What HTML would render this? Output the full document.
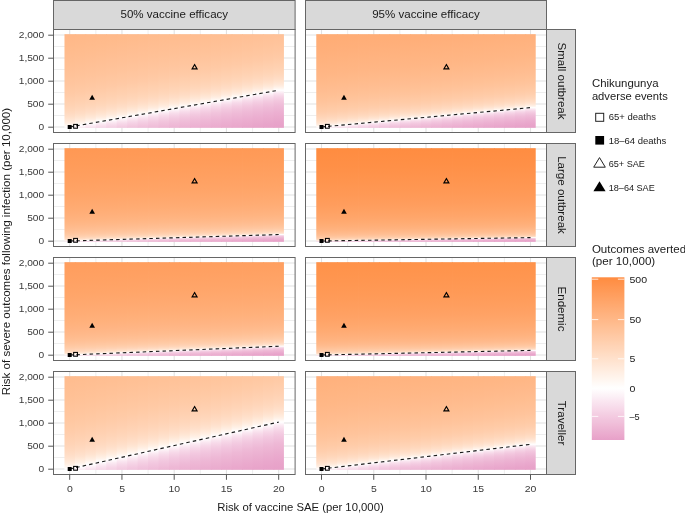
<!DOCTYPE html><html><head><meta charset="utf-8"><title>Chikungunya vaccine outcomes</title><style>html,body{margin:0;padding:0;background:#fff}body{width:685px;height:513px;position:relative;overflow:hidden;font-family:"Liberation Sans",sans-serif}svg{position:absolute;left:0;top:0;display:block}</style></head><body><svg width="685" height="513" viewBox="0 0 685 513"><defs><linearGradient id="g00"><stop offset="-0.0000" stop-color="#ffb787"/><stop offset="0.0000" stop-color="#ffb787"/><stop offset="0.1135" stop-color="#ffbb8c"/><stop offset="0.2089" stop-color="#ffbe92"/><stop offset="0.2890" stop-color="#ffc197"/><stop offset="0.3563" stop-color="#ffc49c"/><stop offset="0.4129" stop-color="#ffc7a1"/><stop offset="0.4604" stop-color="#ffcaa6"/><stop offset="0.5004" stop-color="#ffceac"/><stop offset="0.5341" stop-color="#ffd1b1"/><stop offset="0.5624" stop-color="#ffd4b6"/><stop offset="0.5863" stop-color="#ffd7bb"/><stop offset="0.6064" stop-color="#ffdac1"/><stop offset="0.6234" stop-color="#ffddc6"/><stop offset="0.6378" stop-color="#ffe1cb"/><stop offset="0.6501" stop-color="#ffe4d1"/><stop offset="0.6606" stop-color="#ffe7d6"/><stop offset="0.6696" stop-color="#ffeadb"/><stop offset="0.6774" stop-color="#ffede1"/><stop offset="0.6842" stop-color="#fff0e6"/><stop offset="0.6903" stop-color="#fff4ec"/><stop offset="0.6959" stop-color="#fff7f1"/><stop offset="0.7011" stop-color="#fffaf7"/><stop offset="0.7060" stop-color="#fffdfc"/><stop offset="0.7087" stop-color="#ffffff"/><stop offset="0.7109" stop-color="#fffcfe"/><stop offset="0.7158" stop-color="#fdf7fa"/><stop offset="0.7209" stop-color="#fcf1f7"/><stop offset="0.7265" stop-color="#fbecf4"/><stop offset="0.7325" stop-color="#fae6f1"/><stop offset="0.7393" stop-color="#f9e1ed"/><stop offset="0.7470" stop-color="#f7dbea"/><stop offset="0.7559" stop-color="#f6d6e7"/><stop offset="0.7663" stop-color="#f5d0e4"/><stop offset="0.7783" stop-color="#f3cbe0"/><stop offset="0.7926" stop-color="#f2c5dd"/><stop offset="0.8093" stop-color="#f0c0da"/><stop offset="0.8292" stop-color="#efbad7"/><stop offset="0.8527" stop-color="#edb5d4"/><stop offset="0.8806" stop-color="#ecafd1"/><stop offset="0.9137" stop-color="#eaaacd"/><stop offset="0.9531" stop-color="#e8a4ca"/><stop offset="1.0000" stop-color="#e7a0c8"/></linearGradient><linearGradient id="t000" href="#g00" gradientUnits="userSpaceOnUse" x1="0" x2="0" y1="33.26" y2="165.54"/><linearGradient id="t001" href="#g00" gradientUnits="userSpaceOnUse" x1="0" x2="0" y1="31.42" y2="163.7"/><linearGradient id="t002" href="#g00" gradientUnits="userSpaceOnUse" x1="0" x2="0" y1="29.58" y2="161.86"/><linearGradient id="t003" href="#g00" gradientUnits="userSpaceOnUse" x1="0" x2="0" y1="27.74" y2="160.02"/><linearGradient id="t004" href="#g00" gradientUnits="userSpaceOnUse" x1="0" x2="0" y1="25.9" y2="158.18"/><linearGradient id="t005" href="#g00" gradientUnits="userSpaceOnUse" x1="0" x2="0" y1="24.06" y2="156.34"/><linearGradient id="t006" href="#g00" gradientUnits="userSpaceOnUse" x1="0" x2="0" y1="22.22" y2="154.5"/><linearGradient id="t007" href="#g00" gradientUnits="userSpaceOnUse" x1="0" x2="0" y1="20.38" y2="152.66"/><linearGradient id="t008" href="#g00" gradientUnits="userSpaceOnUse" x1="0" x2="0" y1="18.54" y2="150.82"/><linearGradient id="t009" href="#g00" gradientUnits="userSpaceOnUse" x1="0" x2="0" y1="16.7" y2="148.98"/><linearGradient id="t0010" href="#g00" gradientUnits="userSpaceOnUse" x1="0" x2="0" y1="14.86" y2="147.14"/><linearGradient id="t0011" href="#g00" gradientUnits="userSpaceOnUse" x1="0" x2="0" y1="13.02" y2="145.3"/><linearGradient id="t0012" href="#g00" gradientUnits="userSpaceOnUse" x1="0" x2="0" y1="11.18" y2="143.46"/><linearGradient id="t0013" href="#g00" gradientUnits="userSpaceOnUse" x1="0" x2="0" y1="9.34" y2="141.62"/><linearGradient id="t0014" href="#g00" gradientUnits="userSpaceOnUse" x1="0" x2="0" y1="7.5" y2="139.78"/><linearGradient id="t0015" href="#g00" gradientUnits="userSpaceOnUse" x1="0" x2="0" y1="5.66" y2="137.94"/><linearGradient id="t0016" href="#g00" gradientUnits="userSpaceOnUse" x1="0" x2="0" y1="3.82" y2="136.1"/><linearGradient id="t0017" href="#g00" gradientUnits="userSpaceOnUse" x1="0" x2="0" y1="1.98" y2="134.26"/><linearGradient id="t0018" href="#g00" gradientUnits="userSpaceOnUse" x1="0" x2="0" y1="0.14" y2="132.42"/><linearGradient id="t0019" href="#g00" gradientUnits="userSpaceOnUse" x1="0" x2="0" y1="-1.7" y2="130.58"/><linearGradient id="t0020" href="#g00" gradientUnits="userSpaceOnUse" x1="0" x2="0" y1="-3.54" y2="128.74"/><linearGradient id="g01"><stop offset="0.0000" stop-color="#ffac74"/><stop offset="0.0000" stop-color="#ffac74"/><stop offset="0.1422" stop-color="#ffaf7a"/><stop offset="0.2597" stop-color="#ffb380"/><stop offset="0.3569" stop-color="#ffb685"/><stop offset="0.4371" stop-color="#ffba8b"/><stop offset="0.5035" stop-color="#ffbd91"/><stop offset="0.5583" stop-color="#ffc196"/><stop offset="0.6036" stop-color="#ffc49c"/><stop offset="0.6411" stop-color="#ffc8a2"/><stop offset="0.6721" stop-color="#ffcba7"/><stop offset="0.6977" stop-color="#ffcead"/><stop offset="0.7189" stop-color="#ffd2b3"/><stop offset="0.7365" stop-color="#ffd5b9"/><stop offset="0.7511" stop-color="#ffd9be"/><stop offset="0.7633" stop-color="#ffdcc4"/><stop offset="0.7734" stop-color="#ffe0ca"/><stop offset="0.7818" stop-color="#ffe3d0"/><stop offset="0.7889" stop-color="#ffe7d6"/><stop offset="0.7950" stop-color="#ffeadc"/><stop offset="0.8001" stop-color="#ffeee2"/><stop offset="0.8046" stop-color="#fff1e7"/><stop offset="0.8086" stop-color="#fff5ed"/><stop offset="0.8122" stop-color="#fff8f3"/><stop offset="0.8156" stop-color="#fffcf9"/><stop offset="0.8186" stop-color="#ffffff"/><stop offset="0.8188" stop-color="#ffffff"/><stop offset="0.8221" stop-color="#fef9fb"/><stop offset="0.8255" stop-color="#fdf3f8"/><stop offset="0.8291" stop-color="#fbedf4"/><stop offset="0.8331" stop-color="#fae6f1"/><stop offset="0.8377" stop-color="#f9e0ed"/><stop offset="0.8429" stop-color="#f7daea"/><stop offset="0.8491" stop-color="#f6d4e6"/><stop offset="0.8563" stop-color="#f4cee3"/><stop offset="0.8649" stop-color="#f3c8df"/><stop offset="0.8752" stop-color="#f1c2dc"/><stop offset="0.8876" stop-color="#efbcd8"/><stop offset="0.9025" stop-color="#eeb6d5"/><stop offset="0.9205" stop-color="#ecb0d1"/><stop offset="0.9422" stop-color="#eaaace"/><stop offset="0.9683" stop-color="#e8a4ca"/><stop offset="1.0000" stop-color="#e7a0c8"/></linearGradient><linearGradient id="t010" href="#g01" gradientUnits="userSpaceOnUse" x1="0" x2="0" y1="33.7" y2="147.67"/><linearGradient id="t011" href="#g01" gradientUnits="userSpaceOnUse" x1="0" x2="0" y1="32.73" y2="146.7"/><linearGradient id="t012" href="#g01" gradientUnits="userSpaceOnUse" x1="0" x2="0" y1="31.76" y2="145.73"/><linearGradient id="t013" href="#g01" gradientUnits="userSpaceOnUse" x1="0" x2="0" y1="30.79" y2="144.77"/><linearGradient id="t014" href="#g01" gradientUnits="userSpaceOnUse" x1="0" x2="0" y1="29.82" y2="143.8"/><linearGradient id="t015" href="#g01" gradientUnits="userSpaceOnUse" x1="0" x2="0" y1="28.85" y2="142.83"/><linearGradient id="t016" href="#g01" gradientUnits="userSpaceOnUse" x1="0" x2="0" y1="27.89" y2="141.86"/><linearGradient id="t017" href="#g01" gradientUnits="userSpaceOnUse" x1="0" x2="0" y1="26.92" y2="140.89"/><linearGradient id="t018" href="#g01" gradientUnits="userSpaceOnUse" x1="0" x2="0" y1="25.95" y2="139.92"/><linearGradient id="t019" href="#g01" gradientUnits="userSpaceOnUse" x1="0" x2="0" y1="24.98" y2="138.96"/><linearGradient id="t0110" href="#g01" gradientUnits="userSpaceOnUse" x1="0" x2="0" y1="24.01" y2="137.99"/><linearGradient id="t0111" href="#g01" gradientUnits="userSpaceOnUse" x1="0" x2="0" y1="23.04" y2="137.02"/><linearGradient id="t0112" href="#g01" gradientUnits="userSpaceOnUse" x1="0" x2="0" y1="22.08" y2="136.05"/><linearGradient id="t0113" href="#g01" gradientUnits="userSpaceOnUse" x1="0" x2="0" y1="21.11" y2="135.08"/><linearGradient id="t0114" href="#g01" gradientUnits="userSpaceOnUse" x1="0" x2="0" y1="20.14" y2="134.11"/><linearGradient id="t0115" href="#g01" gradientUnits="userSpaceOnUse" x1="0" x2="0" y1="19.17" y2="133.15"/><linearGradient id="t0116" href="#g01" gradientUnits="userSpaceOnUse" x1="0" x2="0" y1="18.2" y2="132.18"/><linearGradient id="t0117" href="#g01" gradientUnits="userSpaceOnUse" x1="0" x2="0" y1="17.23" y2="131.21"/><linearGradient id="t0118" href="#g01" gradientUnits="userSpaceOnUse" x1="0" x2="0" y1="16.27" y2="130.24"/><linearGradient id="t0119" href="#g01" gradientUnits="userSpaceOnUse" x1="0" x2="0" y1="15.3" y2="129.27"/><linearGradient id="t0120" href="#g01" gradientUnits="userSpaceOnUse" x1="0" x2="0" y1="14.33" y2="128.3"/><linearGradient id="g10"><stop offset="0.0000" stop-color="#ff9854"/><stop offset="0.0000" stop-color="#ff9854"/><stop offset="0.1830" stop-color="#ff9c5a"/><stop offset="0.3298" stop-color="#ffa061"/><stop offset="0.4476" stop-color="#ffa467"/><stop offset="0.5422" stop-color="#ffa86e"/><stop offset="0.6180" stop-color="#ffac74"/><stop offset="0.6789" stop-color="#ffb07b"/><stop offset="0.7278" stop-color="#ffb481"/><stop offset="0.7670" stop-color="#ffb888"/><stop offset="0.7984" stop-color="#ffbc8f"/><stop offset="0.8237" stop-color="#ffc095"/><stop offset="0.8440" stop-color="#ffc49c"/><stop offset="0.8603" stop-color="#ffc8a2"/><stop offset="0.8733" stop-color="#ffcca9"/><stop offset="0.8838" stop-color="#ffd0af"/><stop offset="0.8923" stop-color="#ffd4b6"/><stop offset="0.8991" stop-color="#ffd8bd"/><stop offset="0.9046" stop-color="#ffdcc3"/><stop offset="0.9091" stop-color="#ffe0ca"/><stop offset="0.9127" stop-color="#ffe4d1"/><stop offset="0.9157" stop-color="#ffe8d8"/><stop offset="0.9181" stop-color="#ffecde"/><stop offset="0.9202" stop-color="#fff0e5"/><stop offset="0.9220" stop-color="#fff4ec"/><stop offset="0.9236" stop-color="#fff8f3"/><stop offset="0.9250" stop-color="#fffcfa"/><stop offset="0.9261" stop-color="#ffffff"/><stop offset="0.9265" stop-color="#fffdfe"/><stop offset="0.9279" stop-color="#fdf6fa"/><stop offset="0.9294" stop-color="#fceff6"/><stop offset="0.9311" stop-color="#fae8f2"/><stop offset="0.9330" stop-color="#f9e1ee"/><stop offset="0.9353" stop-color="#f7daea"/><stop offset="0.9380" stop-color="#f5d3e5"/><stop offset="0.9413" stop-color="#f4cce1"/><stop offset="0.9453" stop-color="#f2c5dd"/><stop offset="0.9503" stop-color="#f0bed9"/><stop offset="0.9565" stop-color="#eeb8d5"/><stop offset="0.9641" stop-color="#ecb1d1"/><stop offset="0.9736" stop-color="#eaaacd"/><stop offset="0.9853" stop-color="#e8a3c9"/><stop offset="1.0000" stop-color="#e7a0c8"/><stop offset="1.0000" stop-color="#e7a0c8"/></linearGradient><linearGradient id="t100" href="#g10" gradientUnits="userSpaceOnUse" x1="0" x2="0" y1="148.02" y2="248.42"/><linearGradient id="t101" href="#g10" gradientUnits="userSpaceOnUse" x1="0" x2="0" y1="147.7" y2="248.1"/><linearGradient id="t102" href="#g10" gradientUnits="userSpaceOnUse" x1="0" x2="0" y1="147.38" y2="247.78"/><linearGradient id="t103" href="#g10" gradientUnits="userSpaceOnUse" x1="0" x2="0" y1="147.05" y2="247.45"/><linearGradient id="t104" href="#g10" gradientUnits="userSpaceOnUse" x1="0" x2="0" y1="146.73" y2="247.13"/><linearGradient id="t105" href="#g10" gradientUnits="userSpaceOnUse" x1="0" x2="0" y1="146.41" y2="246.81"/><linearGradient id="t106" href="#g10" gradientUnits="userSpaceOnUse" x1="0" x2="0" y1="146.09" y2="246.49"/><linearGradient id="t107" href="#g10" gradientUnits="userSpaceOnUse" x1="0" x2="0" y1="145.77" y2="246.17"/><linearGradient id="t108" href="#g10" gradientUnits="userSpaceOnUse" x1="0" x2="0" y1="145.44" y2="245.84"/><linearGradient id="t109" href="#g10" gradientUnits="userSpaceOnUse" x1="0" x2="0" y1="145.12" y2="245.52"/><linearGradient id="t1010" href="#g10" gradientUnits="userSpaceOnUse" x1="0" x2="0" y1="144.8" y2="245.2"/><linearGradient id="t1011" href="#g10" gradientUnits="userSpaceOnUse" x1="0" x2="0" y1="144.48" y2="244.88"/><linearGradient id="t1012" href="#g10" gradientUnits="userSpaceOnUse" x1="0" x2="0" y1="144.16" y2="244.56"/><linearGradient id="t1013" href="#g10" gradientUnits="userSpaceOnUse" x1="0" x2="0" y1="143.83" y2="244.23"/><linearGradient id="t1014" href="#g10" gradientUnits="userSpaceOnUse" x1="0" x2="0" y1="143.51" y2="243.91"/><linearGradient id="t1015" href="#g10" gradientUnits="userSpaceOnUse" x1="0" x2="0" y1="143.19" y2="243.59"/><linearGradient id="t1016" href="#g10" gradientUnits="userSpaceOnUse" x1="0" x2="0" y1="142.87" y2="243.27"/><linearGradient id="t1017" href="#g10" gradientUnits="userSpaceOnUse" x1="0" x2="0" y1="142.55" y2="242.95"/><linearGradient id="t1018" href="#g10" gradientUnits="userSpaceOnUse" x1="0" x2="0" y1="142.22" y2="242.62"/><linearGradient id="t1019" href="#g10" gradientUnits="userSpaceOnUse" x1="0" x2="0" y1="141.9" y2="242.3"/><linearGradient id="t1020" href="#g10" gradientUnits="userSpaceOnUse" x1="0" x2="0" y1="141.58" y2="241.98"/><linearGradient id="g11"><stop offset="-0.0000" stop-color="#ff8c40"/><stop offset="0.0000" stop-color="#ff8c40"/><stop offset="0.2028" stop-color="#ff9047"/><stop offset="0.3626" stop-color="#ff954f"/><stop offset="0.4885" stop-color="#ff9956"/><stop offset="0.5877" stop-color="#ff9d5d"/><stop offset="0.6658" stop-color="#ffa264"/><stop offset="0.7273" stop-color="#ffa66b"/><stop offset="0.7758" stop-color="#ffab72"/><stop offset="0.8140" stop-color="#ffaf79"/><stop offset="0.8441" stop-color="#ffb380"/><stop offset="0.8678" stop-color="#ffb888"/><stop offset="0.8865" stop-color="#ffbc8f"/><stop offset="0.9013" stop-color="#ffc096"/><stop offset="0.9129" stop-color="#ffc59d"/><stop offset="0.9220" stop-color="#ffc9a4"/><stop offset="0.9292" stop-color="#ffcdab"/><stop offset="0.9349" stop-color="#ffd2b2"/><stop offset="0.9394" stop-color="#ffd6b9"/><stop offset="0.9430" stop-color="#ffdac1"/><stop offset="0.9458" stop-color="#ffdfc8"/><stop offset="0.9481" stop-color="#ffe3cf"/><stop offset="0.9499" stop-color="#ffe7d7"/><stop offset="0.9514" stop-color="#ffecde"/><stop offset="0.9526" stop-color="#fff0e5"/><stop offset="0.9537" stop-color="#fff4ed"/><stop offset="0.9546" stop-color="#fff9f4"/><stop offset="0.9555" stop-color="#fffdfc"/><stop offset="0.9558" stop-color="#ffffff"/><stop offset="0.9563" stop-color="#fefbfd"/><stop offset="0.9572" stop-color="#fdf3f8"/><stop offset="0.9581" stop-color="#fbecf4"/><stop offset="0.9592" stop-color="#f9e4ef"/><stop offset="0.9604" stop-color="#f8ddeb"/><stop offset="0.9619" stop-color="#f6d5e6"/><stop offset="0.9638" stop-color="#f4cde2"/><stop offset="0.9661" stop-color="#f2c6de"/><stop offset="0.9690" stop-color="#f0bed9"/><stop offset="0.9727" stop-color="#eeb7d5"/><stop offset="0.9773" stop-color="#ecafd1"/><stop offset="0.9832" stop-color="#e9a8cc"/><stop offset="0.9906" stop-color="#e7a0c8"/><stop offset="1.0000" stop-color="#e7a0c8"/></linearGradient><linearGradient id="t110" href="#g11" gradientUnits="userSpaceOnUse" x1="0" x2="0" y1="148.1" y2="245.29"/><linearGradient id="t111" href="#g11" gradientUnits="userSpaceOnUse" x1="0" x2="0" y1="147.93" y2="245.12"/><linearGradient id="t112" href="#g11" gradientUnits="userSpaceOnUse" x1="0" x2="0" y1="147.76" y2="244.95"/><linearGradient id="t113" href="#g11" gradientUnits="userSpaceOnUse" x1="0" x2="0" y1="147.59" y2="244.78"/><linearGradient id="t114" href="#g11" gradientUnits="userSpaceOnUse" x1="0" x2="0" y1="147.42" y2="244.62"/><linearGradient id="t115" href="#g11" gradientUnits="userSpaceOnUse" x1="0" x2="0" y1="147.25" y2="244.45"/><linearGradient id="t116" href="#g11" gradientUnits="userSpaceOnUse" x1="0" x2="0" y1="147.08" y2="244.28"/><linearGradient id="t117" href="#g11" gradientUnits="userSpaceOnUse" x1="0" x2="0" y1="146.91" y2="244.11"/><linearGradient id="t118" href="#g11" gradientUnits="userSpaceOnUse" x1="0" x2="0" y1="146.74" y2="243.94"/><linearGradient id="t119" href="#g11" gradientUnits="userSpaceOnUse" x1="0" x2="0" y1="146.57" y2="243.77"/><linearGradient id="t1110" href="#g11" gradientUnits="userSpaceOnUse" x1="0" x2="0" y1="146.4" y2="243.6"/><linearGradient id="t1111" href="#g11" gradientUnits="userSpaceOnUse" x1="0" x2="0" y1="146.23" y2="243.43"/><linearGradient id="t1112" href="#g11" gradientUnits="userSpaceOnUse" x1="0" x2="0" y1="146.06" y2="243.26"/><linearGradient id="t1113" href="#g11" gradientUnits="userSpaceOnUse" x1="0" x2="0" y1="145.89" y2="243.09"/><linearGradient id="t1114" href="#g11" gradientUnits="userSpaceOnUse" x1="0" x2="0" y1="145.72" y2="242.92"/><linearGradient id="t1115" href="#g11" gradientUnits="userSpaceOnUse" x1="0" x2="0" y1="145.55" y2="242.75"/><linearGradient id="t1116" href="#g11" gradientUnits="userSpaceOnUse" x1="0" x2="0" y1="145.38" y2="242.58"/><linearGradient id="t1117" href="#g11" gradientUnits="userSpaceOnUse" x1="0" x2="0" y1="145.22" y2="242.41"/><linearGradient id="t1118" href="#g11" gradientUnits="userSpaceOnUse" x1="0" x2="0" y1="145.05" y2="242.24"/><linearGradient id="t1119" href="#g11" gradientUnits="userSpaceOnUse" x1="0" x2="0" y1="144.88" y2="242.07"/><linearGradient id="t1120" href="#g11" gradientUnits="userSpaceOnUse" x1="0" x2="0" y1="144.71" y2="241.9"/><linearGradient id="g20"><stop offset="0.0000" stop-color="#ff9d5d"/><stop offset="0.0000" stop-color="#ff9d5d"/><stop offset="0.1727" stop-color="#ffa163"/><stop offset="0.3125" stop-color="#ffa569"/><stop offset="0.4255" stop-color="#ffa970"/><stop offset="0.5170" stop-color="#ffad76"/><stop offset="0.5911" stop-color="#ffb17c"/><stop offset="0.6510" stop-color="#ffb483"/><stop offset="0.6995" stop-color="#ffb889"/><stop offset="0.7387" stop-color="#ffbc8f"/><stop offset="0.7705" stop-color="#ffc095"/><stop offset="0.7962" stop-color="#ffc49c"/><stop offset="0.8170" stop-color="#ffc8a2"/><stop offset="0.8339" stop-color="#ffcca8"/><stop offset="0.8475" stop-color="#ffcfaf"/><stop offset="0.8586" stop-color="#ffd3b5"/><stop offset="0.8676" stop-color="#ffd7bc"/><stop offset="0.8749" stop-color="#ffdbc2"/><stop offset="0.8809" stop-color="#ffdfc8"/><stop offset="0.8858" stop-color="#ffe3cf"/><stop offset="0.8898" stop-color="#ffe7d5"/><stop offset="0.8932" stop-color="#ffeadc"/><stop offset="0.8960" stop-color="#ffeee2"/><stop offset="0.8984" stop-color="#fff2e9"/><stop offset="0.9006" stop-color="#fff6f0"/><stop offset="0.9025" stop-color="#fffaf6"/><stop offset="0.9043" stop-color="#fffefd"/><stop offset="0.9049" stop-color="#ffffff"/><stop offset="0.9061" stop-color="#fefafc"/><stop offset="0.9080" stop-color="#fdf4f8"/><stop offset="0.9100" stop-color="#fbedf4"/><stop offset="0.9122" stop-color="#fae6f0"/><stop offset="0.9148" stop-color="#f8e0ed"/><stop offset="0.9178" stop-color="#f7d9e9"/><stop offset="0.9214" stop-color="#f5d2e5"/><stop offset="0.9257" stop-color="#f3cbe1"/><stop offset="0.9310" stop-color="#f2c5dd"/><stop offset="0.9374" stop-color="#f0bed9"/><stop offset="0.9453" stop-color="#eeb7d5"/><stop offset="0.9550" stop-color="#ecb1d1"/><stop offset="0.9670" stop-color="#eaaace"/><stop offset="0.9818" stop-color="#e8a3ca"/><stop offset="1.0000" stop-color="#e7a0c8"/><stop offset="1.0000" stop-color="#e7a0c8"/></linearGradient><linearGradient id="t200" href="#g20" gradientUnits="userSpaceOnUse" x1="0" x2="0" y1="261.96" y2="364.78"/><linearGradient id="t201" href="#g20" gradientUnits="userSpaceOnUse" x1="0" x2="0" y1="261.53" y2="364.34"/><linearGradient id="t202" href="#g20" gradientUnits="userSpaceOnUse" x1="0" x2="0" y1="261.09" y2="363.9"/><linearGradient id="t203" href="#g20" gradientUnits="userSpaceOnUse" x1="0" x2="0" y1="260.65" y2="363.47"/><linearGradient id="t204" href="#g20" gradientUnits="userSpaceOnUse" x1="0" x2="0" y1="260.21" y2="363.03"/><linearGradient id="t205" href="#g20" gradientUnits="userSpaceOnUse" x1="0" x2="0" y1="259.78" y2="362.59"/><linearGradient id="t206" href="#g20" gradientUnits="userSpaceOnUse" x1="0" x2="0" y1="259.34" y2="362.16"/><linearGradient id="t207" href="#g20" gradientUnits="userSpaceOnUse" x1="0" x2="0" y1="258.9" y2="361.72"/><linearGradient id="t208" href="#g20" gradientUnits="userSpaceOnUse" x1="0" x2="0" y1="258.47" y2="361.28"/><linearGradient id="t209" href="#g20" gradientUnits="userSpaceOnUse" x1="0" x2="0" y1="258.03" y2="360.84"/><linearGradient id="t2010" href="#g20" gradientUnits="userSpaceOnUse" x1="0" x2="0" y1="257.59" y2="360.41"/><linearGradient id="t2011" href="#g20" gradientUnits="userSpaceOnUse" x1="0" x2="0" y1="257.16" y2="359.97"/><linearGradient id="t2012" href="#g20" gradientUnits="userSpaceOnUse" x1="0" x2="0" y1="256.72" y2="359.53"/><linearGradient id="t2013" href="#g20" gradientUnits="userSpaceOnUse" x1="0" x2="0" y1="256.28" y2="359.1"/><linearGradient id="t2014" href="#g20" gradientUnits="userSpaceOnUse" x1="0" x2="0" y1="255.84" y2="358.66"/><linearGradient id="t2015" href="#g20" gradientUnits="userSpaceOnUse" x1="0" x2="0" y1="255.41" y2="358.22"/><linearGradient id="t2016" href="#g20" gradientUnits="userSpaceOnUse" x1="0" x2="0" y1="254.97" y2="357.79"/><linearGradient id="t2017" href="#g20" gradientUnits="userSpaceOnUse" x1="0" x2="0" y1="254.53" y2="357.35"/><linearGradient id="t2018" href="#g20" gradientUnits="userSpaceOnUse" x1="0" x2="0" y1="254.1" y2="356.91"/><linearGradient id="t2019" href="#g20" gradientUnits="userSpaceOnUse" x1="0" x2="0" y1="253.66" y2="356.47"/><linearGradient id="t2020" href="#g20" gradientUnits="userSpaceOnUse" x1="0" x2="0" y1="253.22" y2="356.04"/><linearGradient id="g21"><stop offset="0.0000" stop-color="#ff9249"/><stop offset="0.0000" stop-color="#ff9249"/><stop offset="0.1936" stop-color="#ff9650"/><stop offset="0.3475" stop-color="#ff9a57"/><stop offset="0.4698" stop-color="#ff9e5e"/><stop offset="0.5671" stop-color="#ffa265"/><stop offset="0.6444" stop-color="#ffa76c"/><stop offset="0.7058" stop-color="#ffab73"/><stop offset="0.7546" stop-color="#ffaf7a"/><stop offset="0.7935" stop-color="#ffb380"/><stop offset="0.8243" stop-color="#ffb787"/><stop offset="0.8489" stop-color="#ffbb8e"/><stop offset="0.8684" stop-color="#ffc095"/><stop offset="0.8839" stop-color="#ffc49c"/><stop offset="0.8962" stop-color="#ffc8a2"/><stop offset="0.9060" stop-color="#ffcca9"/><stop offset="0.9138" stop-color="#ffd0b0"/><stop offset="0.9201" stop-color="#ffd4b7"/><stop offset="0.9250" stop-color="#ffd9be"/><stop offset="0.9290" stop-color="#ffddc5"/><stop offset="0.9322" stop-color="#ffe1cc"/><stop offset="0.9348" stop-color="#ffe5d3"/><stop offset="0.9369" stop-color="#ffe9da"/><stop offset="0.9387" stop-color="#ffeee1"/><stop offset="0.9401" stop-color="#fff2e8"/><stop offset="0.9414" stop-color="#fff6f0"/><stop offset="0.9426" stop-color="#fffaf7"/><stop offset="0.9437" stop-color="#fffefe"/><stop offset="0.9438" stop-color="#ffffff"/><stop offset="0.9447" stop-color="#fef9fb"/><stop offset="0.9459" stop-color="#fcf1f7"/><stop offset="0.9471" stop-color="#fbeaf3"/><stop offset="0.9485" stop-color="#f9e3ef"/><stop offset="0.9502" stop-color="#f7dcea"/><stop offset="0.9522" stop-color="#f6d4e6"/><stop offset="0.9546" stop-color="#f4cde2"/><stop offset="0.9576" stop-color="#f2c6de"/><stop offset="0.9614" stop-color="#f0bfd9"/><stop offset="0.9660" stop-color="#eeb7d5"/><stop offset="0.9719" stop-color="#ecb0d1"/><stop offset="0.9792" stop-color="#eaa9cd"/><stop offset="0.9884" stop-color="#e7a1c9"/><stop offset="1.0000" stop-color="#e7a0c8"/><stop offset="1.0000" stop-color="#e7a0c8"/></linearGradient><linearGradient id="t210" href="#g21" gradientUnits="userSpaceOnUse" x1="0" x2="0" y1="262.07" y2="360.53"/><linearGradient id="t211" href="#g21" gradientUnits="userSpaceOnUse" x1="0" x2="0" y1="261.84" y2="360.3"/><linearGradient id="t212" href="#g21" gradientUnits="userSpaceOnUse" x1="0" x2="0" y1="261.61" y2="360.07"/><linearGradient id="t213" href="#g21" gradientUnits="userSpaceOnUse" x1="0" x2="0" y1="261.38" y2="359.84"/><linearGradient id="t214" href="#g21" gradientUnits="userSpaceOnUse" x1="0" x2="0" y1="261.15" y2="359.61"/><linearGradient id="t215" href="#g21" gradientUnits="userSpaceOnUse" x1="0" x2="0" y1="260.92" y2="359.38"/><linearGradient id="t216" href="#g21" gradientUnits="userSpaceOnUse" x1="0" x2="0" y1="260.69" y2="359.15"/><linearGradient id="t217" href="#g21" gradientUnits="userSpaceOnUse" x1="0" x2="0" y1="260.46" y2="358.92"/><linearGradient id="t218" href="#g21" gradientUnits="userSpaceOnUse" x1="0" x2="0" y1="260.23" y2="358.69"/><linearGradient id="t219" href="#g21" gradientUnits="userSpaceOnUse" x1="0" x2="0" y1="260" y2="358.46"/><linearGradient id="t2110" href="#g21" gradientUnits="userSpaceOnUse" x1="0" x2="0" y1="259.77" y2="358.23"/><linearGradient id="t2111" href="#g21" gradientUnits="userSpaceOnUse" x1="0" x2="0" y1="259.54" y2="358"/><linearGradient id="t2112" href="#g21" gradientUnits="userSpaceOnUse" x1="0" x2="0" y1="259.31" y2="357.77"/><linearGradient id="t2113" href="#g21" gradientUnits="userSpaceOnUse" x1="0" x2="0" y1="259.08" y2="357.54"/><linearGradient id="t2114" href="#g21" gradientUnits="userSpaceOnUse" x1="0" x2="0" y1="258.85" y2="357.31"/><linearGradient id="t2115" href="#g21" gradientUnits="userSpaceOnUse" x1="0" x2="0" y1="258.62" y2="357.08"/><linearGradient id="t2116" href="#g21" gradientUnits="userSpaceOnUse" x1="0" x2="0" y1="258.39" y2="356.85"/><linearGradient id="t2117" href="#g21" gradientUnits="userSpaceOnUse" x1="0" x2="0" y1="258.16" y2="356.62"/><linearGradient id="t2118" href="#g21" gradientUnits="userSpaceOnUse" x1="0" x2="0" y1="257.93" y2="356.39"/><linearGradient id="t2119" href="#g21" gradientUnits="userSpaceOnUse" x1="0" x2="0" y1="257.7" y2="356.16"/><linearGradient id="t2120" href="#g21" gradientUnits="userSpaceOnUse" x1="0" x2="0" y1="257.47" y2="355.93"/><linearGradient id="g30"><stop offset="0.0000" stop-color="#ffbc8e"/><stop offset="0.0000" stop-color="#ffbc8e"/><stop offset="0.1020" stop-color="#ffbf93"/><stop offset="0.1882" stop-color="#ffc298"/><stop offset="0.2611" stop-color="#ffc59d"/><stop offset="0.3228" stop-color="#ffc8a2"/><stop offset="0.3749" stop-color="#ffcba7"/><stop offset="0.4191" stop-color="#ffcead"/><stop offset="0.4564" stop-color="#ffd1b2"/><stop offset="0.4880" stop-color="#ffd4b7"/><stop offset="0.5148" stop-color="#ffd7bc"/><stop offset="0.5376" stop-color="#ffdac1"/><stop offset="0.5569" stop-color="#ffddc6"/><stop offset="0.5734" stop-color="#ffe0cb"/><stop offset="0.5875" stop-color="#ffe3d0"/><stop offset="0.5996" stop-color="#ffe7d5"/><stop offset="0.6101" stop-color="#ffeadb"/><stop offset="0.6192" stop-color="#ffede0"/><stop offset="0.6272" stop-color="#fff0e5"/><stop offset="0.6344" stop-color="#fff3ea"/><stop offset="0.6408" stop-color="#fff6f0"/><stop offset="0.6468" stop-color="#fff9f5"/><stop offset="0.6525" stop-color="#fffcfa"/><stop offset="0.6577" stop-color="#ffffff"/><stop offset="0.6581" stop-color="#ffffff"/><stop offset="0.6636" stop-color="#fef9fc"/><stop offset="0.6694" stop-color="#fdf4f9"/><stop offset="0.6754" stop-color="#fceff5"/><stop offset="0.6820" stop-color="#fbe9f2"/><stop offset="0.6892" stop-color="#f9e4ef"/><stop offset="0.6974" stop-color="#f8dfec"/><stop offset="0.7066" stop-color="#f7d9e9"/><stop offset="0.7173" stop-color="#f6d4e6"/><stop offset="0.7296" stop-color="#f4cfe3"/><stop offset="0.7440" stop-color="#f3c9e0"/><stop offset="0.7608" stop-color="#f1c4dd"/><stop offset="0.7806" stop-color="#f0bfda"/><stop offset="0.8038" stop-color="#eeb9d6"/><stop offset="0.8312" stop-color="#edb4d3"/><stop offset="0.8635" stop-color="#ebafd0"/><stop offset="0.9017" stop-color="#eaa9cd"/><stop offset="0.9467" stop-color="#e8a4ca"/><stop offset="1.0000" stop-color="#e7a0c8"/><stop offset="1.0000" stop-color="#e7a0c8"/></linearGradient><linearGradient id="t300" href="#g30" gradientUnits="userSpaceOnUse" x1="0" x2="0" y1="375.01" y2="517.91"/><linearGradient id="t301" href="#g30" gradientUnits="userSpaceOnUse" x1="0" x2="0" y1="372.66" y2="515.57"/><linearGradient id="t302" href="#g30" gradientUnits="userSpaceOnUse" x1="0" x2="0" y1="370.32" y2="513.22"/><linearGradient id="t303" href="#g30" gradientUnits="userSpaceOnUse" x1="0" x2="0" y1="367.97" y2="510.87"/><linearGradient id="t304" href="#g30" gradientUnits="userSpaceOnUse" x1="0" x2="0" y1="365.62" y2="508.53"/><linearGradient id="t305" href="#g30" gradientUnits="userSpaceOnUse" x1="0" x2="0" y1="363.28" y2="506.18"/><linearGradient id="t306" href="#g30" gradientUnits="userSpaceOnUse" x1="0" x2="0" y1="360.93" y2="503.84"/><linearGradient id="t307" href="#g30" gradientUnits="userSpaceOnUse" x1="0" x2="0" y1="358.59" y2="501.49"/><linearGradient id="t308" href="#g30" gradientUnits="userSpaceOnUse" x1="0" x2="0" y1="356.24" y2="499.14"/><linearGradient id="t309" href="#g30" gradientUnits="userSpaceOnUse" x1="0" x2="0" y1="353.89" y2="496.8"/><linearGradient id="t3010" href="#g30" gradientUnits="userSpaceOnUse" x1="0" x2="0" y1="351.55" y2="494.45"/><linearGradient id="t3011" href="#g30" gradientUnits="userSpaceOnUse" x1="0" x2="0" y1="349.2" y2="492.11"/><linearGradient id="t3012" href="#g30" gradientUnits="userSpaceOnUse" x1="0" x2="0" y1="346.86" y2="489.76"/><linearGradient id="t3013" href="#g30" gradientUnits="userSpaceOnUse" x1="0" x2="0" y1="344.51" y2="487.41"/><linearGradient id="t3014" href="#g30" gradientUnits="userSpaceOnUse" x1="0" x2="0" y1="342.16" y2="485.07"/><linearGradient id="t3015" href="#g30" gradientUnits="userSpaceOnUse" x1="0" x2="0" y1="339.82" y2="482.72"/><linearGradient id="t3016" href="#g30" gradientUnits="userSpaceOnUse" x1="0" x2="0" y1="337.47" y2="480.38"/><linearGradient id="t3017" href="#g30" gradientUnits="userSpaceOnUse" x1="0" x2="0" y1="335.13" y2="478.03"/><linearGradient id="t3018" href="#g30" gradientUnits="userSpaceOnUse" x1="0" x2="0" y1="332.78" y2="475.68"/><linearGradient id="t3019" href="#g30" gradientUnits="userSpaceOnUse" x1="0" x2="0" y1="330.43" y2="473.34"/><linearGradient id="t3020" href="#g30" gradientUnits="userSpaceOnUse" x1="0" x2="0" y1="328.09" y2="470.99"/><linearGradient id="g31"><stop offset="0.0000" stop-color="#ffb07c"/><stop offset="0.0000" stop-color="#ffb07c"/><stop offset="0.1317" stop-color="#ffb481"/><stop offset="0.2413" stop-color="#ffb786"/><stop offset="0.3324" stop-color="#ffba8c"/><stop offset="0.4081" stop-color="#ffbe91"/><stop offset="0.4711" stop-color="#ffc197"/><stop offset="0.5236" stop-color="#ffc49c"/><stop offset="0.5672" stop-color="#ffc8a2"/><stop offset="0.6035" stop-color="#ffcba7"/><stop offset="0.6337" stop-color="#ffcead"/><stop offset="0.6588" stop-color="#ffd2b3"/><stop offset="0.6798" stop-color="#ffd5b8"/><stop offset="0.6973" stop-color="#ffd8be"/><stop offset="0.7120" stop-color="#ffdcc3"/><stop offset="0.7242" stop-color="#ffdfc9"/><stop offset="0.7345" stop-color="#ffe2cf"/><stop offset="0.7433" stop-color="#ffe6d4"/><stop offset="0.7507" stop-color="#ffe9da"/><stop offset="0.7570" stop-color="#ffede0"/><stop offset="0.7625" stop-color="#fff0e5"/><stop offset="0.7674" stop-color="#fff3eb"/><stop offset="0.7718" stop-color="#fff7f1"/><stop offset="0.7759" stop-color="#fffaf7"/><stop offset="0.7797" stop-color="#fffdfc"/><stop offset="0.7815" stop-color="#ffffff"/><stop offset="0.7836" stop-color="#fefcfd"/><stop offset="0.7875" stop-color="#fdf6fa"/><stop offset="0.7915" stop-color="#fcf0f6"/><stop offset="0.7960" stop-color="#fbeaf3"/><stop offset="0.8009" stop-color="#f9e4ef"/><stop offset="0.8065" stop-color="#f8dfec"/><stop offset="0.8130" stop-color="#f7d9e9"/><stop offset="0.8205" stop-color="#f5d3e5"/><stop offset="0.8294" stop-color="#f4cde2"/><stop offset="0.8399" stop-color="#f2c7de"/><stop offset="0.8524" stop-color="#f1c1db"/><stop offset="0.8673" stop-color="#efbcd8"/><stop offset="0.8851" stop-color="#edb6d4"/><stop offset="0.9065" stop-color="#ecb0d1"/><stop offset="0.9322" stop-color="#eaaace"/><stop offset="0.9630" stop-color="#e8a4ca"/><stop offset="1.0000" stop-color="#e7a0c8"/></linearGradient><linearGradient id="t310" href="#g31" gradientUnits="userSpaceOnUse" x1="0" x2="0" y1="375.56" y2="495.13"/><linearGradient id="t311" href="#g31" gradientUnits="userSpaceOnUse" x1="0" x2="0" y1="374.33" y2="493.9"/><linearGradient id="t312" href="#g31" gradientUnits="userSpaceOnUse" x1="0" x2="0" y1="373.09" y2="492.66"/><linearGradient id="t313" href="#g31" gradientUnits="userSpaceOnUse" x1="0" x2="0" y1="371.86" y2="491.43"/><linearGradient id="t314" href="#g31" gradientUnits="userSpaceOnUse" x1="0" x2="0" y1="370.62" y2="490.19"/><linearGradient id="t315" href="#g31" gradientUnits="userSpaceOnUse" x1="0" x2="0" y1="369.39" y2="488.96"/><linearGradient id="t316" href="#g31" gradientUnits="userSpaceOnUse" x1="0" x2="0" y1="368.16" y2="487.72"/><linearGradient id="t317" href="#g31" gradientUnits="userSpaceOnUse" x1="0" x2="0" y1="366.92" y2="486.49"/><linearGradient id="t318" href="#g31" gradientUnits="userSpaceOnUse" x1="0" x2="0" y1="365.69" y2="485.25"/><linearGradient id="t319" href="#g31" gradientUnits="userSpaceOnUse" x1="0" x2="0" y1="364.45" y2="484.02"/><linearGradient id="t3110" href="#g31" gradientUnits="userSpaceOnUse" x1="0" x2="0" y1="363.22" y2="482.78"/><linearGradient id="t3111" href="#g31" gradientUnits="userSpaceOnUse" x1="0" x2="0" y1="361.98" y2="481.55"/><linearGradient id="t3112" href="#g31" gradientUnits="userSpaceOnUse" x1="0" x2="0" y1="360.75" y2="480.31"/><linearGradient id="t3113" href="#g31" gradientUnits="userSpaceOnUse" x1="0" x2="0" y1="359.51" y2="479.08"/><linearGradient id="t3114" href="#g31" gradientUnits="userSpaceOnUse" x1="0" x2="0" y1="358.28" y2="477.84"/><linearGradient id="t3115" href="#g31" gradientUnits="userSpaceOnUse" x1="0" x2="0" y1="357.04" y2="476.61"/><linearGradient id="t3116" href="#g31" gradientUnits="userSpaceOnUse" x1="0" x2="0" y1="355.81" y2="475.38"/><linearGradient id="t3117" href="#g31" gradientUnits="userSpaceOnUse" x1="0" x2="0" y1="354.57" y2="474.14"/><linearGradient id="t3118" href="#g31" gradientUnits="userSpaceOnUse" x1="0" x2="0" y1="353.34" y2="472.91"/><linearGradient id="t3119" href="#g31" gradientUnits="userSpaceOnUse" x1="0" x2="0" y1="352.1" y2="471.67"/><linearGradient id="t3120" href="#g31" gradientUnits="userSpaceOnUse" x1="0" x2="0" y1="350.87" y2="470.44"/><linearGradient id="cb" x1="0" x2="0" y1="0" y2="1"><stop offset="0.000" stop-color="#ff8c40"/><stop offset="0.010" stop-color="#ff8d42"/><stop offset="0.020" stop-color="#ff8f45"/><stop offset="0.030" stop-color="#ff9148"/><stop offset="0.040" stop-color="#ff924b"/><stop offset="0.050" stop-color="#ff944e"/><stop offset="0.060" stop-color="#ff9651"/><stop offset="0.070" stop-color="#ff9853"/><stop offset="0.080" stop-color="#ff9956"/><stop offset="0.090" stop-color="#ff9b59"/><stop offset="0.100" stop-color="#ff9d5c"/><stop offset="0.110" stop-color="#ff9e5f"/><stop offset="0.120" stop-color="#ffa061"/><stop offset="0.130" stop-color="#ffa264"/><stop offset="0.140" stop-color="#ffa367"/><stop offset="0.150" stop-color="#ffa56a"/><stop offset="0.160" stop-color="#ffa76c"/><stop offset="0.170" stop-color="#ffa96f"/><stop offset="0.180" stop-color="#ffaa72"/><stop offset="0.190" stop-color="#ffac75"/><stop offset="0.200" stop-color="#ffae77"/><stop offset="0.210" stop-color="#ffaf7a"/><stop offset="0.220" stop-color="#ffb17d"/><stop offset="0.230" stop-color="#ffb380"/><stop offset="0.240" stop-color="#ffb482"/><stop offset="0.250" stop-color="#ffb685"/><stop offset="0.260" stop-color="#ffb888"/><stop offset="0.270" stop-color="#ffb98b"/><stop offset="0.280" stop-color="#ffbb8d"/><stop offset="0.290" stop-color="#ffbd90"/><stop offset="0.300" stop-color="#ffbf93"/><stop offset="0.310" stop-color="#ffc096"/><stop offset="0.320" stop-color="#ffc299"/><stop offset="0.330" stop-color="#ffc49b"/><stop offset="0.340" stop-color="#ffc59e"/><stop offset="0.350" stop-color="#ffc7a1"/><stop offset="0.360" stop-color="#ffc9a4"/><stop offset="0.370" stop-color="#ffcaa7"/><stop offset="0.380" stop-color="#ffcca9"/><stop offset="0.390" stop-color="#ffceac"/><stop offset="0.400" stop-color="#ffd0af"/><stop offset="0.410" stop-color="#ffd1b2"/><stop offset="0.420" stop-color="#ffd3b5"/><stop offset="0.430" stop-color="#ffd5b8"/><stop offset="0.440" stop-color="#ffd6ba"/><stop offset="0.450" stop-color="#ffd8bd"/><stop offset="0.460" stop-color="#ffdac0"/><stop offset="0.470" stop-color="#ffdcc3"/><stop offset="0.480" stop-color="#ffddc6"/><stop offset="0.490" stop-color="#ffdfc9"/><stop offset="0.500" stop-color="#ffe1cc"/><stop offset="0.510" stop-color="#ffe2ce"/><stop offset="0.520" stop-color="#ffe4d1"/><stop offset="0.530" stop-color="#ffe6d4"/><stop offset="0.540" stop-color="#ffe7d7"/><stop offset="0.550" stop-color="#ffe9da"/><stop offset="0.560" stop-color="#ffebdc"/><stop offset="0.570" stop-color="#ffecdf"/><stop offset="0.580" stop-color="#ffeee2"/><stop offset="0.590" stop-color="#fff0e5"/><stop offset="0.600" stop-color="#fff1e8"/><stop offset="0.610" stop-color="#fff3ea"/><stop offset="0.620" stop-color="#fff5ed"/><stop offset="0.630" stop-color="#fff6f0"/><stop offset="0.640" stop-color="#fff8f3"/><stop offset="0.650" stop-color="#fffaf6"/><stop offset="0.660" stop-color="#fffbf9"/><stop offset="0.670" stop-color="#fffdfc"/><stop offset="0.680" stop-color="#fffffe"/><stop offset="0.690" stop-color="#fffdfe"/><stop offset="0.700" stop-color="#fefafc"/><stop offset="0.710" stop-color="#fdf7fa"/><stop offset="0.720" stop-color="#fdf4f8"/><stop offset="0.730" stop-color="#fcf1f7"/><stop offset="0.740" stop-color="#fbeef5"/><stop offset="0.750" stop-color="#fbeaf3"/><stop offset="0.760" stop-color="#fae7f1"/><stop offset="0.770" stop-color="#f9e4ef"/><stop offset="0.780" stop-color="#f9e1ee"/><stop offset="0.790" stop-color="#f8deec"/><stop offset="0.800" stop-color="#f7dbea"/><stop offset="0.810" stop-color="#f7d8e8"/><stop offset="0.820" stop-color="#f6d5e7"/><stop offset="0.830" stop-color="#f5d2e5"/><stop offset="0.840" stop-color="#f4cfe3"/><stop offset="0.850" stop-color="#f4cce1"/><stop offset="0.860" stop-color="#f3c9e0"/><stop offset="0.870" stop-color="#f2c6de"/><stop offset="0.880" stop-color="#f1c3dc"/><stop offset="0.890" stop-color="#f0c1db"/><stop offset="0.900" stop-color="#f0bed9"/><stop offset="0.910" stop-color="#efbbd7"/><stop offset="0.920" stop-color="#eeb8d5"/><stop offset="0.930" stop-color="#edb5d4"/><stop offset="0.940" stop-color="#ecb2d2"/><stop offset="0.950" stop-color="#ebafd0"/><stop offset="0.960" stop-color="#ebaccf"/><stop offset="0.970" stop-color="#eaa9cd"/><stop offset="0.980" stop-color="#e9a6cb"/><stop offset="0.990" stop-color="#e8a3ca"/><stop offset="1.000" stop-color="#e7a0c8"/></linearGradient></defs><rect x="53.5" y="29.5" width="241.6" height="103" fill="#fff"/><path d="M95.83 29.5V132.5M148.07 29.5V132.5M200.32 29.5V132.5M252.57 29.5V132.5M53.5 115.5H295.1M53.5 92.5H295.1M53.5 69.5H295.1M53.5 46.5H295.1" stroke="#e6e6e6" stroke-width="0.7" fill="none"/><path d="M69.7 29.5V132.5M121.95 29.5V132.5M174.2 29.5V132.5M226.45 29.5V132.5M278.7 29.5V132.5M53.5 127H295.1M53.5 104H295.1M53.5 81H295.1M53.5 58H295.1M53.5 35H295.1" stroke="#e2e2e2" stroke-width="1.1" fill="none"/><rect x="305.5" y="29.5" width="241" height="103" fill="#fff"/><path d="M347.62 29.5V132.5M399.88 29.5V132.5M452.12 29.5V132.5M504.38 29.5V132.5M305.5 115.5H546.5M305.5 92.5H546.5M305.5 69.5H546.5M305.5 46.5H546.5" stroke="#e6e6e6" stroke-width="0.7" fill="none"/><path d="M321.5 29.5V132.5M373.75 29.5V132.5M426 29.5V132.5M478.25 29.5V132.5M530.5 29.5V132.5M305.5 127H546.5M305.5 104H546.5M305.5 81H546.5M305.5 58H546.5M305.5 35H546.5" stroke="#e2e2e2" stroke-width="1.1" fill="none"/><rect x="53.5" y="143.5" width="241.6" height="103" fill="#fff"/><path d="M95.83 143.5V246.5M148.07 143.5V246.5M200.32 143.5V246.5M252.57 143.5V246.5M53.5 229.5H295.1M53.5 206.5H295.1M53.5 183.5H295.1M53.5 160.5H295.1" stroke="#e6e6e6" stroke-width="0.7" fill="none"/><path d="M69.7 143.5V246.5M121.95 143.5V246.5M174.2 143.5V246.5M226.45 143.5V246.5M278.7 143.5V246.5M53.5 241H295.1M53.5 218H295.1M53.5 195H295.1M53.5 172H295.1M53.5 149H295.1" stroke="#e2e2e2" stroke-width="1.1" fill="none"/><rect x="305.5" y="143.5" width="241" height="103" fill="#fff"/><path d="M347.62 143.5V246.5M399.88 143.5V246.5M452.12 143.5V246.5M504.38 143.5V246.5M305.5 229.5H546.5M305.5 206.5H546.5M305.5 183.5H546.5M305.5 160.5H546.5" stroke="#e6e6e6" stroke-width="0.7" fill="none"/><path d="M321.5 143.5V246.5M373.75 143.5V246.5M426 143.5V246.5M478.25 143.5V246.5M530.5 143.5V246.5M305.5 241H546.5M305.5 218H546.5M305.5 195H546.5M305.5 172H546.5M305.5 149H546.5" stroke="#e2e2e2" stroke-width="1.1" fill="none"/><rect x="53.5" y="257.5" width="241.6" height="103" fill="#fff"/><path d="M95.83 257.5V360.5M148.07 257.5V360.5M200.32 257.5V360.5M252.57 257.5V360.5M53.5 343.5H295.1M53.5 320.5H295.1M53.5 297.5H295.1M53.5 274.5H295.1" stroke="#e6e6e6" stroke-width="0.7" fill="none"/><path d="M69.7 257.5V360.5M121.95 257.5V360.5M174.2 257.5V360.5M226.45 257.5V360.5M278.7 257.5V360.5M53.5 355H295.1M53.5 332H295.1M53.5 309H295.1M53.5 286H295.1M53.5 263H295.1" stroke="#e2e2e2" stroke-width="1.1" fill="none"/><rect x="305.5" y="257.5" width="241" height="103" fill="#fff"/><path d="M347.62 257.5V360.5M399.88 257.5V360.5M452.12 257.5V360.5M504.38 257.5V360.5M305.5 343.5H546.5M305.5 320.5H546.5M305.5 297.5H546.5M305.5 274.5H546.5" stroke="#e6e6e6" stroke-width="0.7" fill="none"/><path d="M321.5 257.5V360.5M373.75 257.5V360.5M426 257.5V360.5M478.25 257.5V360.5M530.5 257.5V360.5M305.5 355H546.5M305.5 332H546.5M305.5 309H546.5M305.5 286H546.5M305.5 263H546.5" stroke="#e2e2e2" stroke-width="1.1" fill="none"/><rect x="53.5" y="371.5" width="241.6" height="103" fill="#fff"/><path d="M95.83 371.5V474.5M148.07 371.5V474.5M200.32 371.5V474.5M252.57 371.5V474.5M53.5 457.5H295.1M53.5 434.5H295.1M53.5 411.5H295.1M53.5 388.5H295.1" stroke="#e6e6e6" stroke-width="0.7" fill="none"/><path d="M69.7 371.5V474.5M121.95 371.5V474.5M174.2 371.5V474.5M226.45 371.5V474.5M278.7 371.5V474.5M53.5 469H295.1M53.5 446H295.1M53.5 423H295.1M53.5 400H295.1M53.5 377H295.1" stroke="#e2e2e2" stroke-width="1.1" fill="none"/><rect x="305.5" y="371.5" width="241" height="103" fill="#fff"/><path d="M347.62 371.5V474.5M399.88 371.5V474.5M452.12 371.5V474.5M504.38 371.5V474.5M305.5 457.5H546.5M305.5 434.5H546.5M305.5 411.5H546.5M305.5 388.5H546.5" stroke="#e6e6e6" stroke-width="0.7" fill="none"/><path d="M321.5 371.5V474.5M373.75 371.5V474.5M426 371.5V474.5M478.25 371.5V474.5M530.5 371.5V474.5M305.5 469H546.5M305.5 446H546.5M305.5 423H546.5M305.5 400H546.5M305.5 377H546.5" stroke="#e2e2e2" stroke-width="1.1" fill="none"/><rect x="64.48" y="34.18" width="11.25" height="93.64" fill="url(#t000)"/><rect x="74.92" y="34.18" width="11.25" height="93.64" fill="url(#t001)"/><rect x="85.38" y="34.18" width="11.25" height="93.64" fill="url(#t002)"/><rect x="95.83" y="34.18" width="11.25" height="93.64" fill="url(#t003)"/><rect x="106.28" y="34.18" width="11.25" height="93.64" fill="url(#t004)"/><rect x="116.72" y="34.18" width="11.25" height="93.64" fill="url(#t005)"/><rect x="127.17" y="34.18" width="11.25" height="93.64" fill="url(#t006)"/><rect x="137.62" y="34.18" width="11.25" height="93.64" fill="url(#t007)"/><rect x="148.07" y="34.18" width="11.25" height="93.64" fill="url(#t008)"/><rect x="158.52" y="34.18" width="11.25" height="93.64" fill="url(#t009)"/><rect x="168.97" y="34.18" width="11.25" height="93.64" fill="url(#t0010)"/><rect x="179.43" y="34.18" width="11.25" height="93.64" fill="url(#t0011)"/><rect x="189.88" y="34.18" width="11.25" height="93.64" fill="url(#t0012)"/><rect x="200.32" y="34.18" width="11.25" height="93.64" fill="url(#t0013)"/><rect x="210.77" y="34.18" width="11.25" height="93.64" fill="url(#t0014)"/><rect x="221.22" y="34.18" width="11.25" height="93.64" fill="url(#t0015)"/><rect x="231.68" y="34.18" width="11.25" height="93.64" fill="url(#t0016)"/><rect x="242.12" y="34.18" width="11.25" height="93.64" fill="url(#t0017)"/><rect x="252.57" y="34.18" width="11.25" height="93.64" fill="url(#t0018)"/><rect x="263.02" y="34.18" width="11.25" height="93.64" fill="url(#t0019)"/><rect x="273.47" y="34.18" width="10.45" height="93.64" fill="url(#t0020)"/><rect x="316.27" y="34.18" width="11.25" height="93.64" fill="url(#t010)"/><rect x="326.73" y="34.18" width="11.25" height="93.64" fill="url(#t011)"/><rect x="337.18" y="34.18" width="11.25" height="93.64" fill="url(#t012)"/><rect x="347.62" y="34.18" width="11.25" height="93.64" fill="url(#t013)"/><rect x="358.07" y="34.18" width="11.25" height="93.64" fill="url(#t014)"/><rect x="368.52" y="34.18" width="11.25" height="93.64" fill="url(#t015)"/><rect x="378.98" y="34.18" width="11.25" height="93.64" fill="url(#t016)"/><rect x="389.43" y="34.18" width="11.25" height="93.64" fill="url(#t017)"/><rect x="399.88" y="34.18" width="11.25" height="93.64" fill="url(#t018)"/><rect x="410.32" y="34.18" width="11.25" height="93.64" fill="url(#t019)"/><rect x="420.77" y="34.18" width="11.25" height="93.64" fill="url(#t0110)"/><rect x="431.23" y="34.18" width="11.25" height="93.64" fill="url(#t0111)"/><rect x="441.68" y="34.18" width="11.25" height="93.64" fill="url(#t0112)"/><rect x="452.12" y="34.18" width="11.25" height="93.64" fill="url(#t0113)"/><rect x="462.57" y="34.18" width="11.25" height="93.64" fill="url(#t0114)"/><rect x="473.02" y="34.18" width="11.25" height="93.64" fill="url(#t0115)"/><rect x="483.48" y="34.18" width="11.25" height="93.64" fill="url(#t0116)"/><rect x="493.92" y="34.18" width="11.25" height="93.64" fill="url(#t0117)"/><rect x="504.38" y="34.18" width="11.25" height="93.64" fill="url(#t0118)"/><rect x="514.83" y="34.18" width="11.25" height="93.64" fill="url(#t0119)"/><rect x="525.27" y="34.18" width="10.45" height="93.64" fill="url(#t0120)"/><rect x="64.48" y="148.18" width="11.25" height="93.64" fill="url(#t100)"/><rect x="74.92" y="148.18" width="11.25" height="93.64" fill="url(#t101)"/><rect x="85.38" y="148.18" width="11.25" height="93.64" fill="url(#t102)"/><rect x="95.83" y="148.18" width="11.25" height="93.64" fill="url(#t103)"/><rect x="106.28" y="148.18" width="11.25" height="93.64" fill="url(#t104)"/><rect x="116.72" y="148.18" width="11.25" height="93.64" fill="url(#t105)"/><rect x="127.17" y="148.18" width="11.25" height="93.64" fill="url(#t106)"/><rect x="137.62" y="148.18" width="11.25" height="93.64" fill="url(#t107)"/><rect x="148.07" y="148.18" width="11.25" height="93.64" fill="url(#t108)"/><rect x="158.52" y="148.18" width="11.25" height="93.64" fill="url(#t109)"/><rect x="168.97" y="148.18" width="11.25" height="93.64" fill="url(#t1010)"/><rect x="179.43" y="148.18" width="11.25" height="93.64" fill="url(#t1011)"/><rect x="189.88" y="148.18" width="11.25" height="93.64" fill="url(#t1012)"/><rect x="200.32" y="148.18" width="11.25" height="93.64" fill="url(#t1013)"/><rect x="210.77" y="148.18" width="11.25" height="93.64" fill="url(#t1014)"/><rect x="221.22" y="148.18" width="11.25" height="93.64" fill="url(#t1015)"/><rect x="231.68" y="148.18" width="11.25" height="93.64" fill="url(#t1016)"/><rect x="242.12" y="148.18" width="11.25" height="93.64" fill="url(#t1017)"/><rect x="252.57" y="148.18" width="11.25" height="93.64" fill="url(#t1018)"/><rect x="263.02" y="148.18" width="11.25" height="93.64" fill="url(#t1019)"/><rect x="273.47" y="148.18" width="10.45" height="93.64" fill="url(#t1020)"/><rect x="316.27" y="148.18" width="11.25" height="93.64" fill="url(#t110)"/><rect x="326.73" y="148.18" width="11.25" height="93.64" fill="url(#t111)"/><rect x="337.18" y="148.18" width="11.25" height="93.64" fill="url(#t112)"/><rect x="347.62" y="148.18" width="11.25" height="93.64" fill="url(#t113)"/><rect x="358.07" y="148.18" width="11.25" height="93.64" fill="url(#t114)"/><rect x="368.52" y="148.18" width="11.25" height="93.64" fill="url(#t115)"/><rect x="378.98" y="148.18" width="11.25" height="93.64" fill="url(#t116)"/><rect x="389.43" y="148.18" width="11.25" height="93.64" fill="url(#t117)"/><rect x="399.88" y="148.18" width="11.25" height="93.64" fill="url(#t118)"/><rect x="410.32" y="148.18" width="11.25" height="93.64" fill="url(#t119)"/><rect x="420.77" y="148.18" width="11.25" height="93.64" fill="url(#t1110)"/><rect x="431.23" y="148.18" width="11.25" height="93.64" fill="url(#t1111)"/><rect x="441.68" y="148.18" width="11.25" height="93.64" fill="url(#t1112)"/><rect x="452.12" y="148.18" width="11.25" height="93.64" fill="url(#t1113)"/><rect x="462.57" y="148.18" width="11.25" height="93.64" fill="url(#t1114)"/><rect x="473.02" y="148.18" width="11.25" height="93.64" fill="url(#t1115)"/><rect x="483.48" y="148.18" width="11.25" height="93.64" fill="url(#t1116)"/><rect x="493.92" y="148.18" width="11.25" height="93.64" fill="url(#t1117)"/><rect x="504.38" y="148.18" width="11.25" height="93.64" fill="url(#t1118)"/><rect x="514.83" y="148.18" width="11.25" height="93.64" fill="url(#t1119)"/><rect x="525.27" y="148.18" width="10.45" height="93.64" fill="url(#t1120)"/><rect x="64.48" y="262.18" width="11.25" height="93.64" fill="url(#t200)"/><rect x="74.92" y="262.18" width="11.25" height="93.64" fill="url(#t201)"/><rect x="85.38" y="262.18" width="11.25" height="93.64" fill="url(#t202)"/><rect x="95.83" y="262.18" width="11.25" height="93.64" fill="url(#t203)"/><rect x="106.28" y="262.18" width="11.25" height="93.64" fill="url(#t204)"/><rect x="116.72" y="262.18" width="11.25" height="93.64" fill="url(#t205)"/><rect x="127.17" y="262.18" width="11.25" height="93.64" fill="url(#t206)"/><rect x="137.62" y="262.18" width="11.25" height="93.64" fill="url(#t207)"/><rect x="148.07" y="262.18" width="11.25" height="93.64" fill="url(#t208)"/><rect x="158.52" y="262.18" width="11.25" height="93.64" fill="url(#t209)"/><rect x="168.97" y="262.18" width="11.25" height="93.64" fill="url(#t2010)"/><rect x="179.43" y="262.18" width="11.25" height="93.64" fill="url(#t2011)"/><rect x="189.88" y="262.18" width="11.25" height="93.64" fill="url(#t2012)"/><rect x="200.32" y="262.18" width="11.25" height="93.64" fill="url(#t2013)"/><rect x="210.77" y="262.18" width="11.25" height="93.64" fill="url(#t2014)"/><rect x="221.22" y="262.18" width="11.25" height="93.64" fill="url(#t2015)"/><rect x="231.68" y="262.18" width="11.25" height="93.64" fill="url(#t2016)"/><rect x="242.12" y="262.18" width="11.25" height="93.64" fill="url(#t2017)"/><rect x="252.57" y="262.18" width="11.25" height="93.64" fill="url(#t2018)"/><rect x="263.02" y="262.18" width="11.25" height="93.64" fill="url(#t2019)"/><rect x="273.47" y="262.18" width="10.45" height="93.64" fill="url(#t2020)"/><rect x="316.27" y="262.18" width="11.25" height="93.64" fill="url(#t210)"/><rect x="326.73" y="262.18" width="11.25" height="93.64" fill="url(#t211)"/><rect x="337.18" y="262.18" width="11.25" height="93.64" fill="url(#t212)"/><rect x="347.62" y="262.18" width="11.25" height="93.64" fill="url(#t213)"/><rect x="358.07" y="262.18" width="11.25" height="93.64" fill="url(#t214)"/><rect x="368.52" y="262.18" width="11.25" height="93.64" fill="url(#t215)"/><rect x="378.98" y="262.18" width="11.25" height="93.64" fill="url(#t216)"/><rect x="389.43" y="262.18" width="11.25" height="93.64" fill="url(#t217)"/><rect x="399.88" y="262.18" width="11.25" height="93.64" fill="url(#t218)"/><rect x="410.32" y="262.18" width="11.25" height="93.64" fill="url(#t219)"/><rect x="420.77" y="262.18" width="11.25" height="93.64" fill="url(#t2110)"/><rect x="431.23" y="262.18" width="11.25" height="93.64" fill="url(#t2111)"/><rect x="441.68" y="262.18" width="11.25" height="93.64" fill="url(#t2112)"/><rect x="452.12" y="262.18" width="11.25" height="93.64" fill="url(#t2113)"/><rect x="462.57" y="262.18" width="11.25" height="93.64" fill="url(#t2114)"/><rect x="473.02" y="262.18" width="11.25" height="93.64" fill="url(#t2115)"/><rect x="483.48" y="262.18" width="11.25" height="93.64" fill="url(#t2116)"/><rect x="493.92" y="262.18" width="11.25" height="93.64" fill="url(#t2117)"/><rect x="504.38" y="262.18" width="11.25" height="93.64" fill="url(#t2118)"/><rect x="514.83" y="262.18" width="11.25" height="93.64" fill="url(#t2119)"/><rect x="525.27" y="262.18" width="10.45" height="93.64" fill="url(#t2120)"/><rect x="64.48" y="376.18" width="11.25" height="93.64" fill="url(#t300)"/><rect x="74.92" y="376.18" width="11.25" height="93.64" fill="url(#t301)"/><rect x="85.38" y="376.18" width="11.25" height="93.64" fill="url(#t302)"/><rect x="95.83" y="376.18" width="11.25" height="93.64" fill="url(#t303)"/><rect x="106.28" y="376.18" width="11.25" height="93.64" fill="url(#t304)"/><rect x="116.72" y="376.18" width="11.25" height="93.64" fill="url(#t305)"/><rect x="127.17" y="376.18" width="11.25" height="93.64" fill="url(#t306)"/><rect x="137.62" y="376.18" width="11.25" height="93.64" fill="url(#t307)"/><rect x="148.07" y="376.18" width="11.25" height="93.64" fill="url(#t308)"/><rect x="158.52" y="376.18" width="11.25" height="93.64" fill="url(#t309)"/><rect x="168.97" y="376.18" width="11.25" height="93.64" fill="url(#t3010)"/><rect x="179.43" y="376.18" width="11.25" height="93.64" fill="url(#t3011)"/><rect x="189.88" y="376.18" width="11.25" height="93.64" fill="url(#t3012)"/><rect x="200.32" y="376.18" width="11.25" height="93.64" fill="url(#t3013)"/><rect x="210.77" y="376.18" width="11.25" height="93.64" fill="url(#t3014)"/><rect x="221.22" y="376.18" width="11.25" height="93.64" fill="url(#t3015)"/><rect x="231.68" y="376.18" width="11.25" height="93.64" fill="url(#t3016)"/><rect x="242.12" y="376.18" width="11.25" height="93.64" fill="url(#t3017)"/><rect x="252.57" y="376.18" width="11.25" height="93.64" fill="url(#t3018)"/><rect x="263.02" y="376.18" width="11.25" height="93.64" fill="url(#t3019)"/><rect x="273.47" y="376.18" width="10.45" height="93.64" fill="url(#t3020)"/><rect x="316.27" y="376.18" width="11.25" height="93.64" fill="url(#t310)"/><rect x="326.73" y="376.18" width="11.25" height="93.64" fill="url(#t311)"/><rect x="337.18" y="376.18" width="11.25" height="93.64" fill="url(#t312)"/><rect x="347.62" y="376.18" width="11.25" height="93.64" fill="url(#t313)"/><rect x="358.07" y="376.18" width="11.25" height="93.64" fill="url(#t314)"/><rect x="368.52" y="376.18" width="11.25" height="93.64" fill="url(#t315)"/><rect x="378.98" y="376.18" width="11.25" height="93.64" fill="url(#t316)"/><rect x="389.43" y="376.18" width="11.25" height="93.64" fill="url(#t317)"/><rect x="399.88" y="376.18" width="11.25" height="93.64" fill="url(#t318)"/><rect x="410.32" y="376.18" width="11.25" height="93.64" fill="url(#t319)"/><rect x="420.77" y="376.18" width="11.25" height="93.64" fill="url(#t3110)"/><rect x="431.23" y="376.18" width="11.25" height="93.64" fill="url(#t3111)"/><rect x="441.68" y="376.18" width="11.25" height="93.64" fill="url(#t3112)"/><rect x="452.12" y="376.18" width="11.25" height="93.64" fill="url(#t3113)"/><rect x="462.57" y="376.18" width="11.25" height="93.64" fill="url(#t3114)"/><rect x="473.02" y="376.18" width="11.25" height="93.64" fill="url(#t3115)"/><rect x="483.48" y="376.18" width="11.25" height="93.64" fill="url(#t3116)"/><rect x="493.92" y="376.18" width="11.25" height="93.64" fill="url(#t3117)"/><rect x="504.38" y="376.18" width="11.25" height="93.64" fill="url(#t3118)"/><rect x="514.83" y="376.18" width="11.25" height="93.64" fill="url(#t3119)"/><rect x="525.27" y="376.18" width="10.45" height="93.64" fill="url(#t3120)"/><line x1="69.7" y1="127" x2="278.7" y2="90.2" stroke="#1a1a1a" stroke-width="1.12" stroke-dasharray="3.5 3.14"/><rect x="67.7" y="125" width="4" height="4" fill="#000"/><rect x="73.65" y="124.41" width="3.8" height="3.8" fill="none" stroke="#000" stroke-width="1.05"/><polygon points="92.17,94.75 95,99.65 89.34,99.65" fill="#000"/><polygon points="194.58,64.55 197.07,68.87 192.09,68.87" fill="none" stroke="#000" stroke-width="1.15"/><line x1="321.5" y1="127" x2="530.5" y2="107.63" stroke="#1a1a1a" stroke-width="1.12" stroke-dasharray="3.5 3.14"/><rect x="319.5" y="125" width="4" height="4" fill="#000"/><rect x="325.45" y="124.41" width="3.8" height="3.8" fill="none" stroke="#000" stroke-width="1.05"/><polygon points="343.97,94.75 346.8,99.65 341.14,99.65" fill="#000"/><polygon points="446.38,64.55 448.87,68.87 443.89,68.87" fill="none" stroke="#000" stroke-width="1.15"/><line x1="69.7" y1="241" x2="278.7" y2="234.56" stroke="#1a1a1a" stroke-width="1.12" stroke-dasharray="3.5 3.14"/><rect x="67.7" y="239" width="4" height="4" fill="#000"/><rect x="73.65" y="238.41" width="3.8" height="3.8" fill="none" stroke="#000" stroke-width="1.05"/><polygon points="92.17,208.75 95,213.65 89.34,213.65" fill="#000"/><polygon points="194.58,178.55 197.07,182.87 192.09,182.87" fill="none" stroke="#000" stroke-width="1.15"/><line x1="321.5" y1="241" x2="530.5" y2="237.61" stroke="#1a1a1a" stroke-width="1.12" stroke-dasharray="3.5 3.14"/><rect x="319.5" y="239" width="4" height="4" fill="#000"/><rect x="325.45" y="238.41" width="3.8" height="3.8" fill="none" stroke="#000" stroke-width="1.05"/><polygon points="343.97,208.75 346.8,213.65 341.14,213.65" fill="#000"/><polygon points="446.38,178.55 448.87,182.87 443.89,182.87" fill="none" stroke="#000" stroke-width="1.15"/><line x1="69.7" y1="355" x2="278.7" y2="346.26" stroke="#1a1a1a" stroke-width="1.12" stroke-dasharray="3.5 3.14"/><rect x="67.7" y="353" width="4" height="4" fill="#000"/><rect x="73.65" y="352.41" width="3.8" height="3.8" fill="none" stroke="#000" stroke-width="1.05"/><polygon points="92.17,322.75 95,327.65 89.34,327.65" fill="#000"/><polygon points="194.58,292.55 197.07,296.87 192.09,296.87" fill="none" stroke="#000" stroke-width="1.15"/><line x1="321.5" y1="355" x2="530.5" y2="350.4" stroke="#1a1a1a" stroke-width="1.12" stroke-dasharray="3.5 3.14"/><rect x="319.5" y="353" width="4" height="4" fill="#000"/><rect x="325.45" y="352.41" width="3.8" height="3.8" fill="none" stroke="#000" stroke-width="1.05"/><polygon points="343.97,322.75 346.8,327.65 341.14,327.65" fill="#000"/><polygon points="446.38,292.55 448.87,296.87 443.89,296.87" fill="none" stroke="#000" stroke-width="1.15"/><line x1="69.7" y1="469" x2="278.7" y2="422.08" stroke="#1a1a1a" stroke-width="1.12" stroke-dasharray="3.5 3.14"/><rect x="67.7" y="467" width="4" height="4" fill="#000"/><rect x="73.65" y="466.41" width="3.8" height="3.8" fill="none" stroke="#000" stroke-width="1.05"/><polygon points="92.17,436.75 95,441.65 89.34,441.65" fill="#000"/><polygon points="194.58,406.55 197.07,410.87 192.09,410.87" fill="none" stroke="#000" stroke-width="1.15"/><line x1="321.5" y1="469" x2="530.5" y2="444.31" stroke="#1a1a1a" stroke-width="1.12" stroke-dasharray="3.5 3.14"/><rect x="319.5" y="467" width="4" height="4" fill="#000"/><rect x="325.45" y="466.41" width="3.8" height="3.8" fill="none" stroke="#000" stroke-width="1.05"/><polygon points="343.97,436.75 346.8,441.65 341.14,441.65" fill="#000"/><polygon points="446.38,406.55 448.87,410.87 443.89,410.87" fill="none" stroke="#000" stroke-width="1.15"/><rect x="53.5" y="29.5" width="241.6" height="103" fill="none" stroke="#666666" stroke-width="1"/><rect x="305.5" y="29.5" width="241" height="103" fill="none" stroke="#666666" stroke-width="1"/><rect x="53.5" y="143.5" width="241.6" height="103" fill="none" stroke="#666666" stroke-width="1"/><rect x="305.5" y="143.5" width="241" height="103" fill="none" stroke="#666666" stroke-width="1"/><rect x="53.5" y="257.5" width="241.6" height="103" fill="none" stroke="#666666" stroke-width="1"/><rect x="305.5" y="257.5" width="241" height="103" fill="none" stroke="#666666" stroke-width="1"/><rect x="53.5" y="371.5" width="241.6" height="103" fill="none" stroke="#666666" stroke-width="1"/><rect x="305.5" y="371.5" width="241" height="103" fill="none" stroke="#666666" stroke-width="1"/><rect x="53.5" y="0.5" width="241.6" height="29" fill="#d9d9d9" stroke="#666666" stroke-width="1"/><rect x="305.5" y="0.5" width="241" height="29" fill="#d9d9d9" stroke="#666666" stroke-width="1"/><rect x="546.5" y="29.5" width="29" height="103" fill="#d9d9d9" stroke="#666666" stroke-width="1"/><rect x="546.5" y="143.5" width="29" height="103" fill="#d9d9d9" stroke="#666666" stroke-width="1"/><rect x="546.5" y="257.5" width="29" height="103" fill="#d9d9d9" stroke="#666666" stroke-width="1"/><rect x="546.5" y="371.5" width="29" height="103" fill="#d9d9d9" stroke="#666666" stroke-width="1"/><path d="M48.2 127.2H53.5M48.2 104.2H53.5M48.2 81.2H53.5M48.2 58.2H53.5M48.2 35.2H53.5M48.2 241.2H53.5M48.2 218.2H53.5M48.2 195.2H53.5M48.2 172.2H53.5M48.2 149.2H53.5M48.2 355.2H53.5M48.2 332.2H53.5M48.2 309.2H53.5M48.2 286.2H53.5M48.2 263.2H53.5M48.2 469.2H53.5M48.2 446.2H53.5M48.2 423.2H53.5M48.2 400.2H53.5M48.2 377.2H53.5M69.7 474.5V479.8M121.95 474.5V479.8M174.2 474.5V479.8M226.45 474.5V479.8M278.7 474.5V479.8M321.5 474.5V479.8M373.75 474.5V479.8M426 474.5V479.8M478.25 474.5V479.8M530.5 474.5V479.8" stroke="#555555" stroke-width="1" fill="none"/><rect x="591.8" y="277.3" width="32.6" height="162.7" fill="url(#cb)"/><path d="M591.8 279.2h6.5M617.9 279.2h6.5M591.8 319.6h6.5M617.9 319.6h6.5M591.8 358.8h6.5M617.9 358.8h6.5M591.8 388.3h6.5M617.9 388.3h6.5M591.8 416.4h6.5M617.9 416.4h6.5" stroke="#fff" stroke-width="0.8" fill="none"/><rect x="595.7" y="113.3" width="8" height="8" fill="none" stroke="#222" stroke-width="1"/><rect x="595.3" y="136" width="8.8" height="8.6" fill="#000"/><polygon points="599.5,157.6 605.3,167.2 593.7,167.2" fill="none" stroke="#222" stroke-width="1"/><polygon points="599.5,181.2 605.6,191.2 593.4,191.2" fill="#000"/></svg><svg width="685" height="513" viewBox="0 0 685 513" font-family="Liberation Sans" style="will-change:transform"><text transform="translate(174.3 17.9)" font-size="11.55" fill="#1a1a1a" text-anchor="middle">50% vaccine efficacy</text><text transform="translate(426 17.9)" font-size="11.55" fill="#1a1a1a" text-anchor="middle">95% vaccine efficacy</text><text transform="translate(557.7 81) rotate(90)" font-size="11.55" fill="#1a1a1a" text-anchor="middle">Small outbreak</text><text transform="translate(557.7 195) rotate(90)" font-size="11.55" fill="#1a1a1a" text-anchor="middle">Large outbreak</text><text transform="translate(557.7 309) rotate(90)" font-size="11.55" fill="#1a1a1a" text-anchor="middle">Endemic</text><text transform="translate(557.7 423) rotate(90)" font-size="11.55" fill="#1a1a1a" text-anchor="middle">Traveller</text><text transform="translate(44.2 130.45) scale(1.05 1)" font-size="9.7" fill="#3a3a3a" text-anchor="end">0</text><text transform="translate(44.2 107.45) scale(1.05 1)" font-size="9.7" fill="#3a3a3a" text-anchor="end">500</text><text transform="translate(44.2 84.45) scale(1.05 1)" font-size="9.7" fill="#3a3a3a" text-anchor="end">1,000</text><text transform="translate(44.2 61.45) scale(1.05 1)" font-size="9.7" fill="#3a3a3a" text-anchor="end">1,500</text><text transform="translate(44.2 38.45) scale(1.05 1)" font-size="9.7" fill="#3a3a3a" text-anchor="end">2,000</text><text transform="translate(44.2 244.45) scale(1.05 1)" font-size="9.7" fill="#3a3a3a" text-anchor="end">0</text><text transform="translate(44.2 221.45) scale(1.05 1)" font-size="9.7" fill="#3a3a3a" text-anchor="end">500</text><text transform="translate(44.2 198.45) scale(1.05 1)" font-size="9.7" fill="#3a3a3a" text-anchor="end">1,000</text><text transform="translate(44.2 175.45) scale(1.05 1)" font-size="9.7" fill="#3a3a3a" text-anchor="end">1,500</text><text transform="translate(44.2 152.45) scale(1.05 1)" font-size="9.7" fill="#3a3a3a" text-anchor="end">2,000</text><text transform="translate(44.2 358.45) scale(1.05 1)" font-size="9.7" fill="#3a3a3a" text-anchor="end">0</text><text transform="translate(44.2 335.45) scale(1.05 1)" font-size="9.7" fill="#3a3a3a" text-anchor="end">500</text><text transform="translate(44.2 312.45) scale(1.05 1)" font-size="9.7" fill="#3a3a3a" text-anchor="end">1,000</text><text transform="translate(44.2 289.45) scale(1.05 1)" font-size="9.7" fill="#3a3a3a" text-anchor="end">1,500</text><text transform="translate(44.2 266.45) scale(1.05 1)" font-size="9.7" fill="#3a3a3a" text-anchor="end">2,000</text><text transform="translate(44.2 472.45) scale(1.05 1)" font-size="9.7" fill="#3a3a3a" text-anchor="end">0</text><text transform="translate(44.2 449.45) scale(1.05 1)" font-size="9.7" fill="#3a3a3a" text-anchor="end">500</text><text transform="translate(44.2 426.45) scale(1.05 1)" font-size="9.7" fill="#3a3a3a" text-anchor="end">1,000</text><text transform="translate(44.2 403.45) scale(1.05 1)" font-size="9.7" fill="#3a3a3a" text-anchor="end">1,500</text><text transform="translate(44.2 380.45) scale(1.05 1)" font-size="9.7" fill="#3a3a3a" text-anchor="end">2,000</text><text transform="translate(69.8 491.9) scale(1.08 1)" font-size="9.7" fill="#3a3a3a" text-anchor="middle">0</text><text transform="translate(122.05 491.9) scale(1.08 1)" font-size="9.7" fill="#3a3a3a" text-anchor="middle">5</text><text transform="translate(174.3 491.9) scale(1.08 1)" font-size="9.7" fill="#3a3a3a" text-anchor="middle">10</text><text transform="translate(226.55 491.9) scale(1.08 1)" font-size="9.7" fill="#3a3a3a" text-anchor="middle">15</text><text transform="translate(278.8 491.9) scale(1.08 1)" font-size="9.7" fill="#3a3a3a" text-anchor="middle">20</text><text transform="translate(321.6 491.9) scale(1.08 1)" font-size="9.7" fill="#3a3a3a" text-anchor="middle">0</text><text transform="translate(373.85 491.9) scale(1.08 1)" font-size="9.7" fill="#3a3a3a" text-anchor="middle">5</text><text transform="translate(426.1 491.9) scale(1.08 1)" font-size="9.7" fill="#3a3a3a" text-anchor="middle">10</text><text transform="translate(478.35 491.9) scale(1.08 1)" font-size="9.7" fill="#3a3a3a" text-anchor="middle">15</text><text transform="translate(530.6 491.9) scale(1.08 1)" font-size="9.7" fill="#3a3a3a" text-anchor="middle">20</text><text transform="translate(300.5 510.8)" font-size="11.3" fill="#1a1a1a" text-anchor="middle">Risk of vaccine SAE (per 10,000)</text><text transform="translate(9.5 251.5) rotate(-90)" font-size="11.57" fill="#1a1a1a" text-anchor="middle">Risk of severe outcomes following infection (per 10,000)</text><text transform="translate(591.9 86.5) scale(1.02 1)" font-size="11.2" fill="#1a1a1a">Chikungunya</text><text transform="translate(591.9 99.7)" font-size="11.2" fill="#1a1a1a">adverse events</text><text transform="translate(591.9 252.6) scale(1.03 1)" font-size="11.2" fill="#1a1a1a">Outcomes averted</text><text transform="translate(591.9 264.6) scale(1.04 1)" font-size="11.2" fill="#1a1a1a">(per 10,000)</text><text transform="translate(608.7 120.2)" font-size="9.5" fill="#1a1a1a">65+ deaths</text><text transform="translate(608.7 143.6)" font-size="9.5" fill="#1a1a1a">18–64 deaths</text><text transform="translate(608.7 166.8) scale(0.96 1)" font-size="9.5" fill="#1a1a1a">65+ SAE</text><text transform="translate(608.7 190.6) scale(0.96 1)" font-size="9.5" fill="#1a1a1a">18–64 SAE</text><text transform="translate(629.4 282.6) scale(1.15 1)" font-size="9.2" fill="#1a1a1a">500</text><text transform="translate(629.4 322.8) scale(1.15 1)" font-size="9.2" fill="#1a1a1a">50</text><text transform="translate(629.4 362) scale(1.15 1)" font-size="9.2" fill="#1a1a1a">5</text><text transform="translate(629.4 391.7) scale(1.15 1)" font-size="9.2" fill="#1a1a1a">0</text><text transform="translate(629.4 419.8) scale(0.98 1)" font-size="9.4" fill="#1a1a1a">–5</text></svg></body></html>
